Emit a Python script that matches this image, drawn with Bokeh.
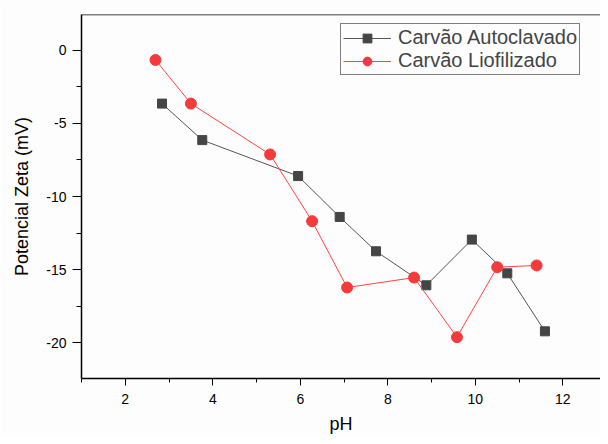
from bokeh.plotting import figure
from bokeh.models import FixedTicker, Span, Legend, LegendItem, Range1d
from bokeh.embed import file_html
from bokeh.resources import INLINE

# Data
ph_auto = [2.84, 3.76, 5.95, 6.90, 7.73, 8.88, 9.92, 10.73, 11.59]
zeta_auto = [-3.64, -6.14, -8.60, -11.40, -13.75, -16.08, -12.95, -15.26, -19.23]

ph_lio = [2.69, 3.50, 5.31, 6.27, 7.07, 8.60, 9.58, 10.50, 11.40]
zeta_lio = [-0.65, -3.64, -7.12, -11.69, -16.23, -15.55, -19.63, -14.84, -14.72]

x_ticks = [2, 4, 6, 8, 10, 12]
x_minor = [1, 3, 5, 7, 9, 11]
y_ticks = [0, -5, -10, -15, -20]
y_minor = [-2.5, -7.5, -12.5, -17.5]

label_auto = "Carvão Autoclavado"
label_lio = "Carvão Liofilizado"

p = figure(width=600, height=436, output_backend="svg", toolbar_location=None,
           x_range=Range1d(1.0, 12.86), y_range=Range1d(-22.46, 2.46),
           min_border_left=81, min_border_top=14, min_border_bottom=55, min_border_right=0)
p.outline_line_color = None
p.grid.visible = False
p.background_fill_color = "#fdfdfd"
p.border_fill_color = "#fdfdfd"

l1 = p.line(ph_auto, zeta_auto, line_color="#555555", line_width=1)
s1 = p.scatter(ph_auto, zeta_auto, marker="square", size=9, fill_color="#454545", line_color="#454545")
l2 = p.line(ph_lio, zeta_lio, line_color="#ff4444", line_width=1)
s2 = p.scatter(ph_lio, zeta_lio, marker="circle", size=11, fill_color="#f43a3a", line_color="#f43a3a")

top = Span(location=2.46, dimension="width", line_color="black", line_width=1.5)
p.add_layout(top)

for ax in (p.xaxis[0], p.yaxis[0]):
    ax.axis_line_color = "black"
    ax.axis_line_width = 1.5
    ax.major_tick_line_color = "black"
    ax.minor_tick_line_color = "black"
    ax.major_tick_in = 0
    ax.minor_tick_in = 0
    ax.major_label_text_font = "Liberation Sans"
    ax.major_label_text_font_size = "14px"
    ax.major_label_text_color = "black"
    ax.axis_label_text_font = "Liberation Sans"
    ax.axis_label_text_font_size = "18px"
    ax.axis_label_text_font_style = "normal"
    ax.axis_label_text_color = "black"

p.xaxis[0].ticker = FixedTicker(ticks=x_ticks, minor_ticks=x_minor)
p.yaxis[0].ticker = FixedTicker(ticks=y_ticks, minor_ticks=y_minor)
p.yaxis[0].major_label_overrides = {t: str(t) for t in y_ticks}
p.xaxis[0].major_label_overrides = {t: str(t) for t in x_ticks}
p.xaxis[0].major_tick_out = 7
p.xaxis[0].minor_tick_out = 4
p.yaxis[0].major_tick_out = 9
p.yaxis[0].minor_tick_out = 5
p.xaxis[0].major_label_standoff = 8
p.yaxis[0].major_label_standoff = 6
p.xaxis[0].axis_label = "pH"
p.yaxis[0].axis_label = "Potencial Zeta (mV)"
p.xaxis[0].axis_label_standoff = 7
p.yaxis[0].axis_label_standoff = 11

legend = Legend(items=[LegendItem(label=label_auto, renderers=[l1, s1]),
                       LegendItem(label=label_lio, renderers=[l2, s2])],
                location=(259, 303), margin=0, padding=2, spacing=0,
                glyph_width=48, glyph_height=22, label_height=22, label_standoff=7,
                label_text_font="Liberation Sans", label_text_font_size="20px",
                border_line_color="black", border_line_width=1,
                background_fill_color="#fdfdfd", background_fill_alpha=1.0)
p.add_layout(legend)

open("out.html", "w").write(file_html(p, INLINE))
